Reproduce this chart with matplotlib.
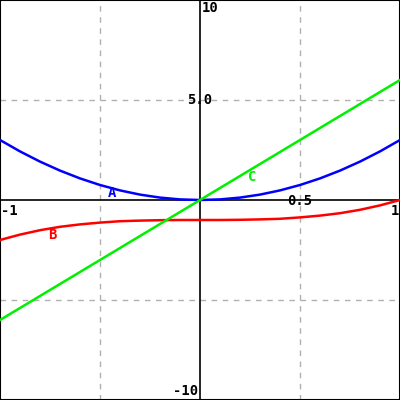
import matplotlib
matplotlib.use("Agg")
import matplotlib.pyplot as plt

# x sample points and curve values
x = [-1.0, -0.9, -0.8, -0.7, -0.6, -0.5, -0.4, -0.3, -0.2, -0.1, 0.0,
     0.1, 0.2, 0.3, 0.4, 0.5, 0.6, 0.7, 0.8, 0.9, 1.0]
a_vals = [3.0, 2.43, 1.92, 1.47, 1.08, 0.75, 0.48, 0.27, 0.12, 0.03, 0.0,
          0.03, 0.12, 0.27, 0.48, 0.75, 1.08, 1.47, 1.92, 2.43, 3.0]
b_vals = [-2.0, -1.73, -1.51, -1.34, -1.22, -1.13, -1.06, -1.03, -1.01, -1.0, -1.0,
          -1.0, -0.99, -0.97, -0.94, -0.87, -0.78, -0.66, -0.49, -0.27, 0.0]
c_vals = [-6.0, -5.4, -4.8, -4.2, -3.6, -3.0, -2.4, -1.8, -1.2, -0.6, 0.0,
          0.6, 1.2, 1.8, 2.4, 3.0, 3.6, 4.2, 4.8, 5.4, 6.0]

series = [("A", a_vals, "#0000ff"), ("B", b_vals, "#ff0000"), ("C", c_vals, "#00f000")]
# where each curve name sits (data coords)
label_pos = {"A": (-0.44, 0.35), "B": (-0.74, -1.75), "C": (0.26, 1.15)}

grid_x = [-0.5, 0.5]
grid_y = [-5, 5]

fig = plt.figure(figsize=(4, 4), dpi=100)
ax = fig.add_axes([0, 0, 1, 1])
ax.set_xlim(-1, 1)
ax.set_ylim(-10, 10)
ax.set_xticks([])
ax.set_yticks([])
for s in ax.spines.values():
    s.set_color("black")
    s.set_linewidth(1.5)

for gx in grid_x:
    ax.axvline(gx, color="#b0b0b0", lw=1, ls=(0, (4, 4)), zorder=1)
for gy in grid_y:
    ax.axhline(gy, color="#b0b0b0", lw=1, ls=(0, (4, 4)), zorder=1)
ax.axhline(0, color="black", lw=1.2, zorder=2)
ax.axvline(0, color="black", lw=1.2, zorder=2)

for name, vals, col in series:
    ax.plot(x, vals, color=col, lw=1.8, zorder=3)
    lx, ly = label_pos[name]
    ax.text(lx, ly, name, color=col, fontsize=10, fontweight="bold",
            family="DejaVu Sans Mono", ha="center", va="center", zorder=4)

font = dict(fontsize=10, fontweight="bold", family="DejaVu Sans Mono", color="black", zorder=5)
ax.text(0.01, 9.95, "10", ha="left", va="top", **font)
ax.text(0, 5, "5.0", ha="center", va="center", **font)
ax.text(-0.01, -9.9, "-10", ha="right", va="bottom", **font)
ax.text(-0.995, -0.2, "-1", ha="left", va="top", **font)
ax.text(0.995, -0.2, "1", ha="right", va="top", **font)
ax.text(0.5, -0.05, "0.5", ha="center", va="center", **font)

fig.savefig("out.png", dpi=100)
